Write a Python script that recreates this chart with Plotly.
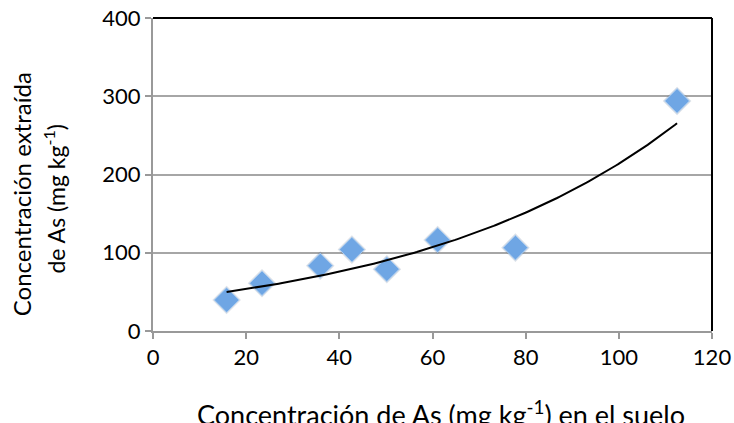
import numpy as np
import plotly.graph_objects as go

# Data
suelo_as = [15.8, 23.4, 35.9, 42.7, 50.2, 61.1, 77.8, 112.5]
extraido_as = [39.6, 61.0, 83.5, 104.0, 79.0, 116.3, 106.5, 294.0]
x_ticks = [0, 20, 40, 60, 80, 100, 120]
y_ticks = [0, 100, 200, 300, 400]

# Exponential trendline (least squares on log y), like a spreadsheet trendline
b, ln_a = np.polyfit(suelo_as, np.log(extraido_as), 1)
x_fit = np.linspace(min(suelo_as), max(suelo_as), 200)
y_fit = np.exp(ln_a) * np.exp(b * x_fit)

FONT = "Lato"

fig = go.Figure()
# soft shadow under markers
fig.add_trace(go.Scatter(
    x=suelo_as, y=extraido_as, mode="markers",
    marker=dict(symbol="diamond", size=22, color="rgba(60,90,130,0.18)", line=dict(width=0)),
    hoverinfo="skip", showlegend=False))
fig.add_trace(go.Scatter(
    x=suelo_as, y=extraido_as, mode="markers",
    marker=dict(symbol="diamond", size=19, color="#6FA6E4",
                line=dict(color="#A9CBF0", width=1)),
    showlegend=False))
fig.add_trace(go.Scatter(
    x=x_fit, y=y_fit, mode="lines",
    line=dict(color="black", width=2), showlegend=False))

axis_common = dict(
    showgrid=False, zeroline=False, showline=True, linecolor="#999999", linewidth=2,
    ticks="outside", ticklen=6, tickcolor="#999999", tickwidth=2, automargin=False,
    ticklabeloverflow="allow",
    tickfont=dict(family=FONT, size=22, color="black"),
)
fig.update_xaxes(range=[0, 120], tickvals=x_ticks, **axis_common)
fig.update_yaxes(range=[0, 400], tickvals=y_ticks, **axis_common)
fig.update_yaxes(showgrid=True, gridcolor="#A6A6A6", gridwidth=2)

shapes = [
    dict(type="line", xref="paper", yref="paper", x0=0, x1=1, y0=1, y1=1,
         line=dict(color="black", width=2), layer="above"),
    dict(type="line", xref="paper", yref="paper", x0=1, x1=1, y0=0, y1=1,
         line=dict(color="black", width=2), layer="above"),
]

annotations = [
    dict(text="Concentración de As (mg kg<sup>-1</sup>) en el suelo",
         xref="paper", yref="paper", x=0.515, y=0, yshift=-82,
         showarrow=False, font=dict(family=FONT, size=27, color="black"),
         xanchor="center", yanchor="middle"),
    dict(text="Concentración extraída",
         xref="paper", yref="paper", x=0, y=0.437, xshift=-132,
         showarrow=False, textangle=-90, font=dict(family=FONT, size=24, color="black"),
         xanchor="center", yanchor="middle"),
    dict(text="de As (mg kg<sup>-1</sup>)",
         xref="paper", yref="paper", x=0, y=0.42, xshift=-98,
         showarrow=False, textangle=-90, font=dict(family=FONT, size=23, color="black"),
         xanchor="center", yanchor="middle"),
]

fig.update_layout(
    width=734, height=423,
    margin=dict(l=153, r=22, t=18, b=92, autoexpand=False),
    plot_bgcolor="white", paper_bgcolor="white",
    shapes=shapes, annotations=annotations,
    font=dict(family=FONT),
)

fig.write_html(
    "out.html",
    config={"displayModeBar": False},
    post_script="document.body.style.margin='0';document.body.style.overflow='hidden';",
)
